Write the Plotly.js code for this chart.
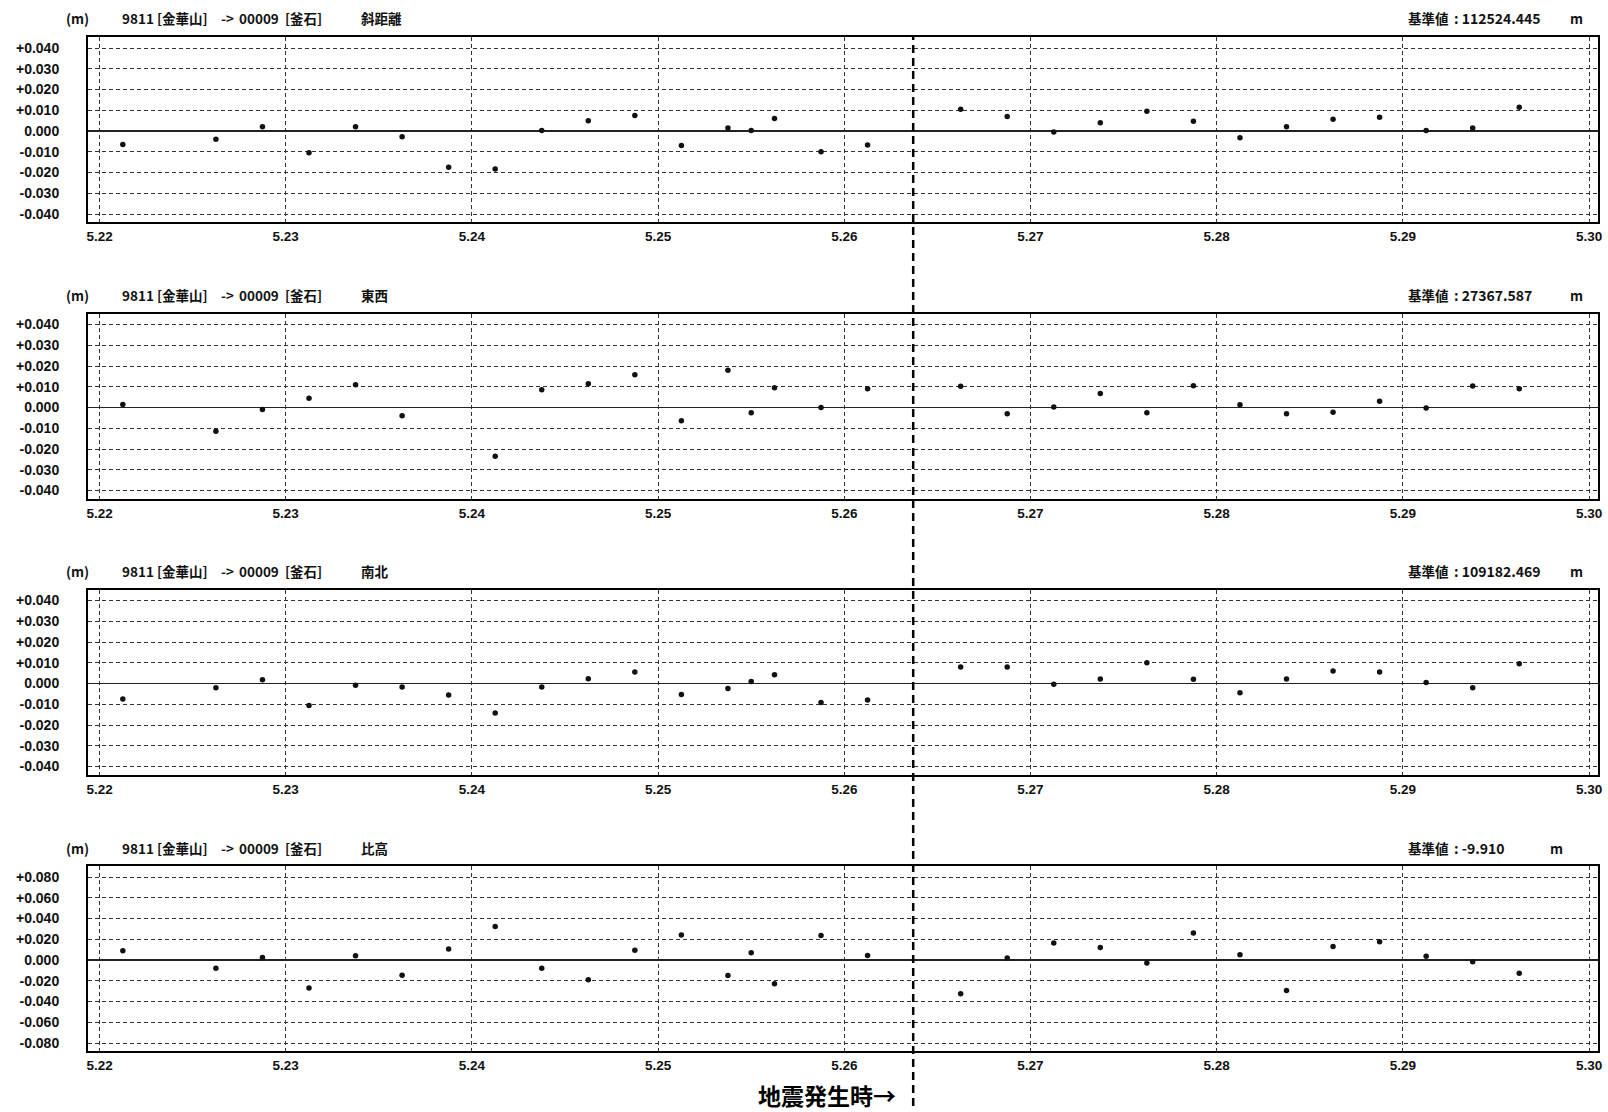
<!DOCTYPE html>
<html><head><meta charset="utf-8">
<script src="https://cdn.plot.ly/plotly-3.0.1.min.js"></script>
<style>html,body{margin:0;padding:0;background:#fff;} #chart{width:1608px;height:1112px;}</style>
</head><body><div id="chart"></div>
<script>
// ---- data ----
const times = [5.22125, 5.22625, 5.22875, 5.23125, 5.23375, 5.23625, 5.23875, 5.24125, 5.24375, 5.24625,
               5.24875, 5.25125, 5.25375, 5.255, 5.25625, 5.25875, 5.26125, 5.26625, 5.26875, 5.27125,
               5.27375, 5.27625, 5.27875, 5.28125, 5.28375, 5.28625, 5.28875, 5.29125, 5.29375, 5.29625];
const slopeDistance = [-0.0065, -0.004, 0.002, -0.0105, 0.002, -0.0028, -0.0175, -0.0183, 0.0003, 0.005,
                       0.0075, -0.007, 0.0014, 0.0003, 0.006, -0.010, -0.0068, 0.0105, 0.007, -0.0005,
                       0.004, 0.0095, 0.0047, -0.0033, 0.002, 0.0057, 0.0066, 0.0002, 0.0015, 0.0115];
const eastWest = [0.0015, -0.0115, -0.001, 0.0045, 0.011, -0.004, null, -0.0235, 0.0085, 0.0115,
                  0.0158, -0.0064, 0.018, -0.0025, 0.0095, 0.0000, 0.009, 0.0103, -0.003, 0.0003,
                  0.0068, -0.0025, 0.0105, 0.0013, -0.003, -0.0023, 0.003, -0.0002, 0.0104, 0.009];
const northSouth = [-0.0075, -0.002, 0.0018, -0.0106, -0.0008, -0.0017, -0.0055, -0.0142, -0.0017, 0.0023,
                    0.0056, -0.0053, -0.0024, 0.001, 0.0042, -0.0092, -0.0079, 0.008, 0.008, -0.0004,
                    0.0022, 0.01, 0.002, -0.0045, 0.0022, 0.006, 0.0055, 0.0005, -0.002, 0.0095];
const heightDiff = [0.009, -0.008, 0.0025, -0.027, 0.004, -0.0146, 0.0105, 0.0322, -0.008, -0.019,
                    0.0095, 0.024, -0.015, 0.007, -0.023, 0.0237, 0.0043, -0.0325, 0.002, 0.0165,
                    0.012, -0.003, 0.026, 0.005, -0.0295, 0.013, 0.0175, 0.0035, -0.0017, -0.0127];

const stationParts = ["9811", "[金華山]", "->", "00009", "[釜石]"];
const componentNames = ["斜距離", "東西", "南北", "比高"];
const baseLabel = "基準値";
const baseValues = ["112524.445", "27367.587", "109182.469", "-9.910"];
const unitLabel = "m";
const yUnit = "(m)";
const quakeLabel = "地震発生時→";
const quakeTime = 5.2637;

const xTickVals = [5.22, 5.23, 5.24, 5.25, 5.26, 5.27, 5.28, 5.29, 5.30];
const xTickText = ["5.22", "5.23", "5.24", "5.25", "5.26", "5.27", "5.28", "5.29", "5.30"];
const yTickValsSmall = [0.04, 0.03, 0.02, 0.01, 0, -0.01, -0.02, -0.03, -0.04];
const yTickTextSmall = ["+0.040", "+0.030", "+0.020", "+0.010", "0.000", "-0.010", "-0.020", "-0.030", "-0.040"];
const yTickValsLarge = [0.08, 0.06, 0.04, 0.02, 0, -0.02, -0.04, -0.06, -0.08];
const yTickTextLarge = ["+0.080", "+0.060", "+0.040", "+0.020", "0.000", "-0.020", "-0.040", "-0.060", "-0.080"];

const series = [slopeDistance, eastWest, northSouth, heightDiff];

// ---- layout geometry ----
const W = 1608, H = 1112;
const mL = 88, mR = 10, mT = 37, mB = 61;
const plotW = W - mL - mR, plotH = H - mT - mB;
const panelTops = [37, 313.5, 589.5, 866];
const panelH = 185;
const px2x = px => (px - mL) / plotW;
const py2y = py => (H - mB - py) / plotH;

const FONT = "Liberation Sans, Arial, 'Noto Sans CJK JP', sans-serif";
const CJK = "'Noto Sans CJK JP', Liberation Sans, sans-serif";

const traces = [];
const layout = {
  width: W, height: H,
  margin: {l: mL, r: mR, t: mT, b: mB},
  paper_bgcolor: "#fff", plot_bgcolor: "#fff",
  showlegend: false,
  annotations: [], shapes: []
};

const xRange = [5.21938, 5.30048];
const partPx = [120, 155, 219, 237, 283];
for (let k = 0; k < 4; k++) {
  const sfx = k === 0 ? "" : String(k + 1);
  const big = k === 3;
  const scale = big ? 2 : 1;
  const yr = [(-0.04 - 8 / 20.75 * 0.01) * scale, (0.04 + 11 / 20.75 * 0.01) * scale];
  const top = panelTops[k], bot = top + panelH;
  traces.push({
    type: "scatter", mode: "markers",
    x: times, y: series[k],
    xaxis: "x" + sfx, yaxis: "y" + sfx,
    marker: {size: 5.5, color: "#111"},
    hoverinfo: "x+y"
  });
  layout["xaxis" + sfx] = {
    domain: [0, 1], anchor: "y" + sfx, range: xRange,
    tickvals: xTickVals, ticktext: xTickText, ticks: "",
    ticklabelstandoff: 1,
    tickfont: {family: FONT, size: 13.5, color: "#111", weight: "bold"},
    showgrid: true, gridcolor: "#333", gridwidth: 1, griddash: "4px,3px",
    zeroline: false,
    showline: true, mirror: true, linecolor: "#000", linewidth: 2
  };
  layout["yaxis" + sfx] = {
    domain: [py2y(bot), py2y(top)], anchor: "x" + sfx, range: yr,
    tickvals: big ? yTickValsLarge : yTickValsSmall,
    ticktext: big ? yTickTextLarge : yTickTextSmall,
    ticks: "", ticklabelstandoff: 24,
    tickfont: {family: FONT, size: 14, color: "#111", weight: "bold"},
    showgrid: true, gridcolor: "#333", gridwidth: 1, griddash: "4px,3px",
    zeroline: true, zerolinecolor: "#222", zerolinewidth: 1.5,
    showline: true, mirror: true, linecolor: "#000", linewidth: 2
  };
  const hy = py2y(top - 18.5);
  const hdrFont = {family: CJK, size: 13.5, color: "#111", weight: "bold"};
  const add = (text, px, anchor, size) => layout.annotations.push({
    xref: "paper", yref: "paper", x: px2x(px), y: hy, text: text,
    xanchor: anchor || "left", yanchor: "middle", showarrow: false,
    font: size ? Object.assign({}, hdrFont, {size: size}) : hdrFont
  });
  add(yUnit, 64);
  stationParts.forEach((p, i) => add(p, partPx[i]));
  add(componentNames[k], 359);
  add(baseLabel, 1406);
  add(": " + baseValues[k], 1452, "left", 14);
  add(unitLabel, big ? 1548 : 1568);
}

// earthquake marker line across all panels
layout.shapes.push({
  type: "line", xref: "x", yref: "paper",
  x0: quakeTime, x1: quakeTime, y0: py2y(1106), y1: py2y(37),
  line: {color: "#000", width: 2.5, dash: "8px,5px"}, layer: "above"
});
layout.annotations.push({
  xref: "paper", yref: "paper", x: px2x(898), y: py2y(1095), text: quakeLabel,
  xanchor: "right", yanchor: "middle", showarrow: false,
  font: {family: CJK, size: 23, color: "#000", weight: "bold"}
});

Plotly.newPlot("chart", traces, layout, {displayModeBar: false, staticPlot: true});
</script>
</body></html>
